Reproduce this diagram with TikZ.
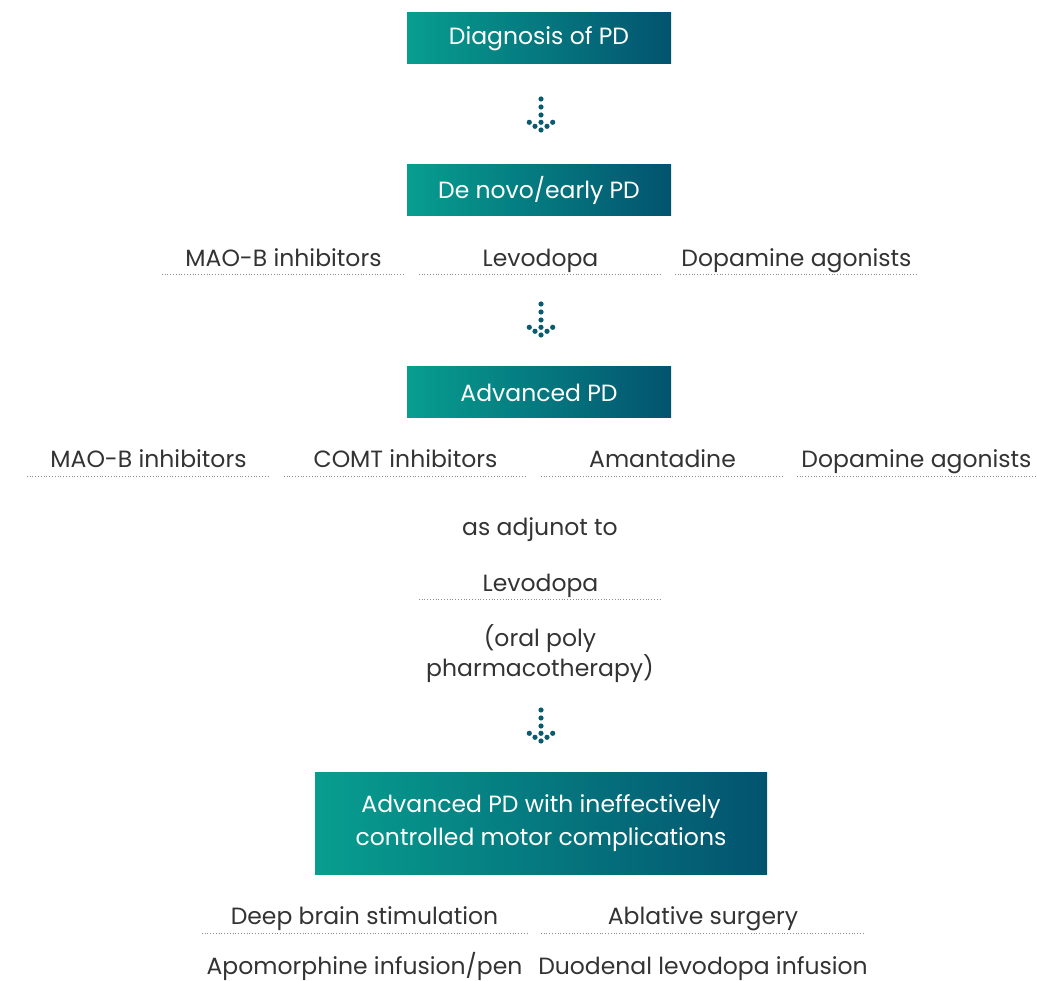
\documentclass[tikz,border=0pt]{standalone}
\usepackage{fontspec}
\setmainfont{Poppins}
\usetikzlibrary{positioning,calc}
\definecolor{tealL}{HTML}{079E8F}
\definecolor{tealR}{HTML}{03536F}
\definecolor{dotc}{HTML}{0B5B70}
\definecolor{txt}{HTML}{333333}
\definecolor{ulc}{HTML}{8C8C8C}

\begin{document}
\begin{tikzpicture}[x=1pt,y=-1pt,
  stagebox/.style={left color=tealL, right color=tealR, text=white, font=\fontsize{23.5}{33}\selectfont, align=center, inner sep=0pt},
  drug/.style={text=txt, font=\fontsize{23.5}{26}\selectfont, inner sep=0pt, minimum width=243pt, text height=18pt, text depth=8pt, anchor=base},
  plain/.style={text=txt, font=\fontsize{23.5}{30}\selectfont, inner sep=0pt, align=center},
  uline/.style={ulc, dotted, line width=0.8pt},
  dot/.style={dotc}]
\useasboundingbox (0,0) rectangle (1037,981);

\node[stagebox, minimum width=264pt, minimum height=51pt] (diag) at (539,38.5) {Diagnosis of PD};
\node[stagebox, minimum width=264pt, minimum height=51pt] (early) at (539,190.5) {De novo/early PD};
\node[stagebox, minimum width=264pt, minimum height=51pt] (adv) at (539,392.5) {Advanced PD};
\node[stagebox, minimum width=452pt, minimum height=102pt] (advmc) at (541,823.5) {Advanced PD with ineffectively\\controlled motor complications};

\coordinate (arrA) at (541,99);
\coordinate (arrB) at (541,304);
\coordinate (arrC) at (541,710);
\foreach \a in {arrA,arrB,arrC} {
  \foreach \dy in {0,8,16,23.3,31}
    \fill[dot] ($(\a)+(0,\dy)$) circle (2.6);
  \fill[dot] ($(\a)+(-11.7,23.3)$) circle (2.6);
  \fill[dot] ($(\a)+(11.7,23.3)$) circle (2.6);
  \fill[dot] ($(\a)+(-6,27.3)$) circle (2.6);
  \fill[dot] ($(\a)+(6,27.3)$) circle (2.6);
}

\node[drug] (mao1) at (283.5,266.5) {MAO-B inhibitors};
\node[drug] (levo1) at (540.5,266.5) {Levodopa};
\node[drug] (dopa1) at (796.5,266.5) {Dopamine agonists};

\node[drug] (mao2) at (148.5,468) {MAO-B inhibitors};
\node[drug] (comt) at (405.5,468) {COMT inhibitors};
\node[drug] (aman) at (662.5,468) {Amantadine};
\node[drug, minimum width=239pt] (dopa2) at (916.5,468) {Dopamine agonists};

\node[plain, anchor=base] (adj) at (540,536) {as adjunot to};
\node[drug] (levo2) at (540.5,591) {Levodopa};
\node[plain, anchor=north] (oral) at (540,624) {(oral poly\\pharmacotherapy)};

\node[drug, minimum width=325pt, text depth=8.5pt] (dbs) at (364.5,924.5) {Deep brain stimulation};
\node[drug, minimum width=324pt, text depth=8.5pt] (abl) at (703,924.5) {Ablative surgery};
\node[plain, anchor=base] (apo) at (364.5,974) {Apomorphine infusion/pen};
\node[plain, anchor=base] (duo) at (703,974) {Duodenal levodopa infusion};

\foreach \n in {mao1,levo1,dopa1,mao2,comt,aman,dopa2,levo2,dbs,abl}
  \draw[uline] (\n.south west) -- (\n.south east);
\end{tikzpicture}
\end{document}
